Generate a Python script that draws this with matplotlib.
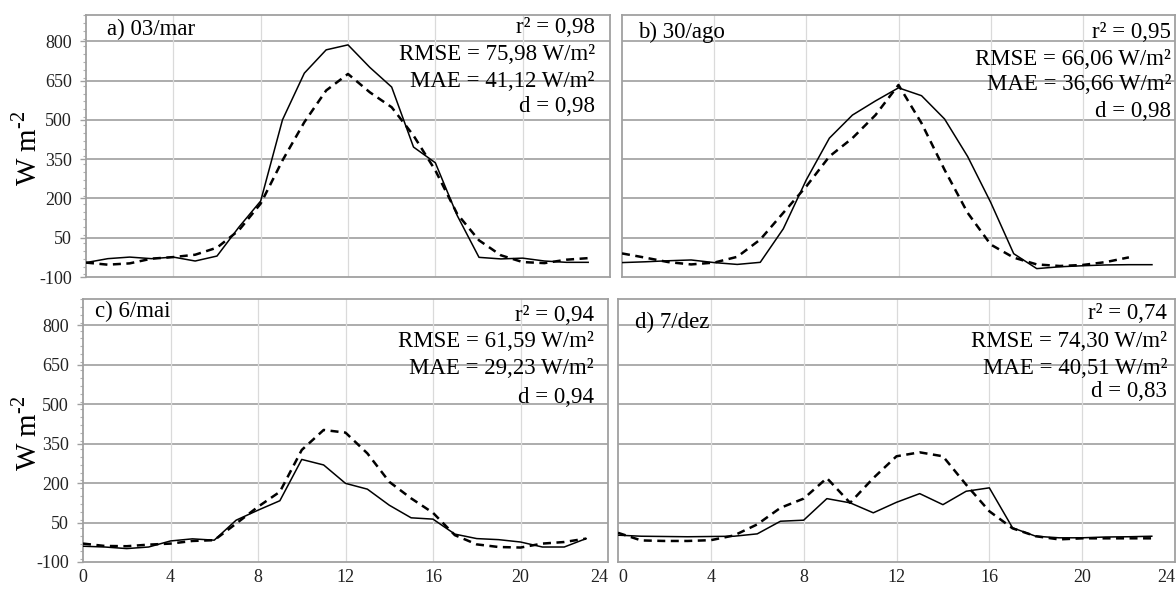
import matplotlib
matplotlib.use("Agg")
import matplotlib.pyplot as plt
from matplotlib.ticker import MultipleLocator

plt.rcParams['font.family'] = ['Liberation Serif', 'DejaVu Serif']
plt.rcParams['mathtext.fontset'] = 'custom'
plt.rcParams['mathtext.rm'] = 'Liberation Serif'
plt.rcParams['axes.unicode_minus'] = False

hours = list(range(24))

# panel a) 03/mar
obs_a = [-45, -30, -24, -30, -24, -39, -20, 90, 190, 500, 678, 767, 786, 700, 625,
         396, 336, 135, -25, -31, -28, -39, -44, -44]
mod_a = [-45, -53, -48, -30, -24, -15, 12, 78, 180, 345, 491, 612, 675, 605, 548,
         440, 307, 141, 40, -17, -43, -47, -34, -28]
# panel b) 30/ago
obs_b = [-45, -42, -38, -35, -45, -52, -44, 84, 271, 430, 518, 572, 622, 592, 503,
         360, 185, -11, -68, -61, -57, -54, -53, -53]
mod_b = [-10, -26, -43, -52, -45, -23, 43, 145, 246, 360, 430, 518, 633, 487, 309,
         145, 24, -26, -52, -58, -54, -43, -25]
# panel c) 6/mai
obs_c = [-40, -43, -49, -43, -20, -12, -17, 59, 97, 133, 290, 269, 199, 177, 116,
         68, 63, 6, -11, -15, -24, -43, -43, -11]
mod_c = [-30, -39, -40, -34, -30, -20, -17, 46, 110, 167, 326, 402, 392, 313, 205,
         142, 87, 2, -33, -43, -45, -30, -24, -11]
# panel d) 7/dez
obs_d = [2, -2, -3, -4, -3, -2, 7, 55, 59, 141, 125, 87, 127, 160, 118,
         169, 182, 30, -2, -8, -8, -5, -4, -2]
mod_d = [11, -18, -20, -20, -17, 1, 43, 106, 141, 219, 125, 219, 302, 317, 302,
         194, 93, 28, -2, -14, -10, -10, -10, -10]

titles = ["a) 03/mar", "b) 30/ago", "c) 6/mai", "d) 7/dez"]
stats = [
    ["r² = 0,98", "RMSE = 75,98 W/m²", "MAE = 41,12 W/m²", "d = 0,98"],
    ["r² = 0,95", "RMSE = 66,06 W/m²", "MAE = 36,66 W/m²", "d = 0,98"],
    ["r² = 0,94", "RMSE = 61,59 W/m²", "MAE = 29,23 W/m²", "d = 0,94"],
    ["r² = 0,74", "RMSE = 74,30 W/m²", "MAE = 40,51 W/m²", "d = 0,83"],
]
yticks = [-100, 50, 200, 350, 500, 650, 800]
xticks = [0, 4, 8, 12, 16, 20, 24]
xticklabels = ["0", "4", "8", "12", "16", "20", "24"]
ylabel = "W m$^{\\mathregular{\u20102}}$"

W, H = 1176, 590
fig = plt.figure(figsize=(W / 100, H / 100), dpi=100)

def box(l, r, t, b):
    return [l / W, 1 - b / H, (r - l) / W, (b - t) / H]

rects = [box(86, 610, 15, 277), box(622, 1175, 15, 277),
         box(83, 608, 299, 562), box(618, 1175, 299, 562)]
series = [(obs_a, mod_a), (obs_b, mod_b), (obs_c, mod_c), (obs_d, mod_d)]
stat_x = [0.971, 0.993, 0.973, 0.986]
stat_y = [[0.954, 0.851, 0.748, 0.649], [0.935, 0.832, 0.733, 0.630],
          [0.939, 0.837, 0.734, 0.627], [0.945, 0.837, 0.734, 0.650]]
title_pos = [(0.040, 0.943), (0.029, 0.935), (0.023, 0.954), (0.031, 0.909)]
ylabel_x = {0: -0.084, 2: -0.078}

for i, (rect, (obs, mod)) in enumerate(zip(rects, series)):
    ax = fig.add_axes(rect)
    ax.plot(hours[:len(obs)], obs, color='black', lw=1.1, zorder=3)
    ax.plot(hours[:len(mod)], mod, color='black', lw=1.8, ls=(0, (3.2, 2.2)), zorder=3)
    ax.set_xlim(0, 24)
    ax.set_ylim(-100, 900)
    ax.set_yticks(yticks)
    ax.yaxis.set_minor_locator(MultipleLocator(30))
    ax.set_xticks(xticks)
    for s in ax.spines.values():
        s.set_color('#a0a0a0')
        s.set_linewidth(1.3)
    ax.grid(False)
    for yv in yticks[1:]:
        ax.axhline(yv, color='#a6a6a6', lw=1.3, zorder=1)
    for xv in xticks[1:-1]:
        ax.axvline(xv, color='#dadada', lw=0.9, zorder=1)
    ax.tick_params(axis='y', which='major', length=4, width=1, color='#a0a0a0',
                   labelsize=13, pad=6, labelcolor='#222222')
    ax.tick_params(axis='y', which='minor', length=2.5, width=0.8, color='#b0b0b0')
    ax.tick_params(axis='x', length=0, labelsize=13, pad=5, labelcolor='#222222')
    if i < 2:
        ax.set_xticklabels([])
    else:
        ax.set_xticklabels(xticklabels)
        labs = ax.get_xticklabels()
        labs[-1].set_horizontalalignment('right')
        if i == 3:
            labs[0].set_horizontalalignment('left')
    if i in (1, 3):
        ax.set_yticklabels([])
        ax.tick_params(axis='y', which='both', length=0)
    else:
        ax.set_ylabel(ylabel, fontsize=21)
        ax.yaxis.set_label_coords(ylabel_x[i], 0.49)
    tx, ty = title_pos[i]
    ax.text(tx, ty, titles[i], transform=ax.transAxes, fontsize=16.5,
            ha='left', va='center', zorder=4)
    for txt, yy in zip(stats[i], stat_y[i]):
        ax.text(stat_x[i], yy, txt, transform=ax.transAxes, fontsize=16.5,
                ha='right', va='center', zorder=4)

fig.savefig("out.png", dpi=100)
